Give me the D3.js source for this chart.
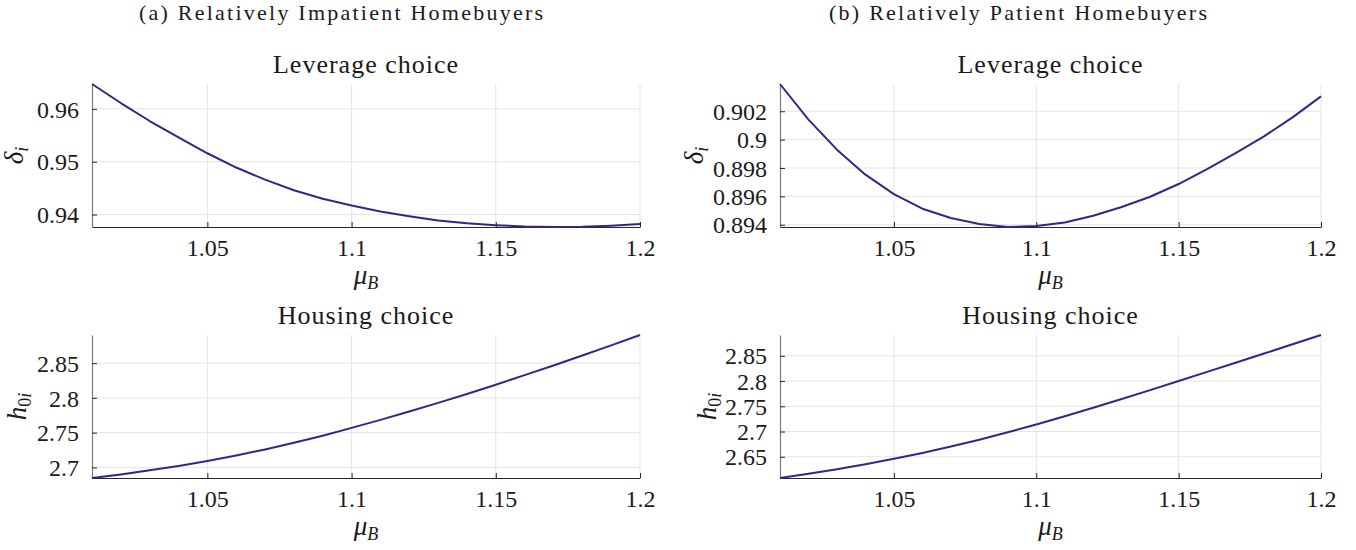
<!DOCTYPE html>
<html>
<head>
<meta charset="utf-8">
<script src="https://cdn.jsdelivr.net/npm/d3@7"></script>
<style>
    body { margin: 0; background: #fff; }
    text { font-family: "Liberation Serif", "Times New Roman", serif; fill: #1a1a1a; }
</style>
</head>
<body>
<svg id="chart" width="1356" height="550"></svg>
<script>
// mu_B grid (x axis of every panel)
const muB = [1.01, 1.02, 1.03, 1.04, 1.05, 1.06, 1.07, 1.08, 1.09, 1.10,
    1.11, 1.12, 1.13, 1.14, 1.15, 1.16, 1.17, 1.18, 1.19, 1.20];

// delta_i, relatively impatient / patient homebuyers
const leverageImpatient = [0.9647, 0.9611, 0.9577, 0.9546, 0.9516, 0.9489, 0.9466, 0.9446, 0.9430, 0.9417,
    0.9406, 0.9397, 0.9389, 0.93835, 0.9380, 0.93775, 0.93765, 0.93768, 0.9379, 0.9382];
const leveragePatient = [0.90392, 0.90141, 0.89929, 0.89753, 0.89616, 0.89513, 0.89447, 0.89405, 0.89384, 0.89391,
    0.89416, 0.89463, 0.89525, 0.89597, 0.89687, 0.89792, 0.89905, 0.90023, 0.90157, 0.90305];

// h_0i, relatively impatient / patient homebuyers
const housingImpatient = [2.6847, 2.6899, 2.6957, 2.7021, 2.7092, 2.7171, 2.7258, 2.7353, 2.7456, 2.7568,
    2.7684, 2.7804, 2.7928, 2.8057, 2.8190, 2.8327, 2.8467, 2.8610, 2.8756, 2.8905];
const housingPatient = [2.6080, 2.6164, 2.6255, 2.6354, 2.6460, 2.6575, 2.6702, 2.6839, 2.6985, 2.7140,
    2.7302, 2.7470, 2.7643, 2.7820, 2.8000, 2.8181, 2.8363, 2.8545, 2.8728, 2.8912];

// tick labels
const xTicks = [1.05, 1.1, 1.15, 1.2];
const leverageTicksA = [0.94, 0.95, 0.96];
const leverageTicksB = [0.894, 0.896, 0.898, 0.9, 0.902];
const housingTicksA = [2.7, 2.75, 2.8, 2.85];
const housingTicksB = [2.65, 2.7, 2.75, 2.8, 2.85];

const columnTitles = ["(a) Relatively Impatient Homebuyers", "(b) Relatively Patient Homebuyers"];

const lineColor = "#2e2888",
    gridColor = "#e4e4e4",
    axisColor = "#262626",
    serif = '"Liberation Serif", "Times New Roman", serif';

const svg = d3.select("#chart");

// plot boxes, in pixels
const cols = [{left: 92, right: 640, titleX: 341, titleW: 404}, {left: 780, right: 1321, titleX: 1018, titleW: 378}];
const rows = [{top: 84, bottom: 227}, {top: 335, bottom: 478}];

const panels = [
    {col: 0, row: 0, y: leverageImpatient, ticks: leverageTicksA, title: "Leverage choice", ylab: "delta", labX: 18},
    {col: 1, row: 0, y: leveragePatient, ticks: leverageTicksB, title: "Leverage choice", ylab: "delta", labX: 698},
    {col: 0, row: 1, y: housingImpatient, ticks: housingTicksA, title: "Housing choice", ylab: "h", labX: 21},
    {col: 1, row: 1, y: housingPatient, ticks: housingTicksB, title: "Housing choice", ylab: "h", labX: 711}
];

columnTitles.forEach(function (t, i) {
    let c = cols[i];
    svg.append("text")
        .attr("x", c.titleX)
        .attr("y", 20)
        .attr("text-anchor", "middle")
        .attr("textLength", c.titleW)
        .attr("lengthAdjust", "spacing")
        .style("font-family", serif)
        .style("font-size", "22px")
        .text(t);
});

function drawPanel(p) {
    let c = cols[p.col], r = rows[p.row];

    let x = d3.scaleLinear().domain([muB[0], muB[muB.length - 1]]).range([c.left, c.right]);
    let y = d3.scaleLinear().domain(d3.extent(p.y)).range([r.bottom, r.top]);

    let g = svg.append("g");

    // grid
    g.append("g").selectAll("line")
        .data(xTicks)
        .enter().append("line")
        .attr("x1", d => x(d)).attr("x2", d => x(d))
        .attr("y1", r.top).attr("y2", r.bottom)
        .attr("stroke", gridColor).attr("stroke-width", 1);

    g.append("g").selectAll("line")
        .data(p.ticks)
        .enter().append("line")
        .attr("x1", c.left).attr("x2", c.right)
        .attr("y1", d => y(d)).attr("y2", d => y(d))
        .attr("stroke", gridColor).attr("stroke-width", 1);

    // axes (inward ticks, MATLAB style)
    let fmt = d => String(+d.toFixed(3));
    let xAxis = d3.axisBottom(x).tickValues(xTicks).tickSizeInner(-5).tickSizeOuter(0)
        .tickPadding(12).tickFormat(fmt);
    let yAxis = d3.axisLeft(y).tickValues(p.ticks).tickSizeInner(-5).tickSizeOuter(0)
        .tickPadding(13).tickFormat(fmt);

    let gx = g.append("g").attr("transform", "translate(0," + r.bottom + ")").call(xAxis);
    let gy = g.append("g").attr("transform", "translate(" + c.left + ",0)").call(yAxis);

    [gx, gy].forEach(function (a) {
        a.attr("font-family", serif).attr("font-size", null);
        a.selectAll("text")
            .style("font-family", serif)
            .style("font-size", "24px")
            .attr("fill", "#1a1a1a");
        a.selectAll(".tick line").attr("stroke", axisColor);
    });
    gx.select(".domain").attr("stroke", axisColor).attr("stroke-width", 1.2);
    gy.select(".domain").attr("stroke", "#7a7a7a").attr("stroke-width", 1.2);
    gy.selectAll("text").attr("dy", "0.34em");
    gx.selectAll("text").attr("dy", "0.7em");

    // curve
    let line = d3.line()
        .x((d, i) => x(muB[i]))
        .y(d => y(d));

    g.append("path")
        .datum(p.y)
        .attr("fill", "none")
        .attr("stroke", lineColor)
        .attr("stroke-width", 2)
        .attr("stroke-linejoin", "round")
        .attr("d", line);

    // panel title
    g.append("text")
        .attr("x", (c.left + c.right) / 2)
        .attr("y", r.top - 11)
        .attr("text-anchor", "middle")
        .style("font-family", serif)
        .style("font-size", "26px")
        .attr("letter-spacing", "1px")
        .text(p.title);

    // x label mu_B
    let xl = g.append("text")
        .attr("x", (c.left + c.right) / 2)
        .attr("y", r.bottom + 57)
        .attr("text-anchor", "middle")
        .style("font-family", serif);
    xl.append("tspan").style("font-style", "italic").style("font-size", "27px").text("μ");
    xl.append("tspan").style("font-style", "italic").style("font-size", "18px").attr("dy", 5).text("B");

    // y label
    let yl = g.append("text")
        .attr("text-anchor", "middle")
        .attr("transform", "translate(" + p.labX + "," + (r.top + r.bottom) / 2 + ") rotate(-90)")
        .attr("dy", "0.3em")
        .style("font-family", serif);
    if (p.ylab === "delta") {
        yl.append("tspan").style("font-style", "italic").style("font-size", "27px").text("δ");
        yl.append("tspan").style("font-style", "italic").style("font-size", "18px").attr("dy", 5).text("i");
    } else {
        yl.append("tspan").style("font-style", "italic").style("font-size", "27px").text("h");
        yl.append("tspan").style("font-size", "18px").attr("dy", 5).text("0");
        yl.append("tspan").style("font-style", "italic").style("font-size", "18px").text("i");
    }
}

panels.forEach(drawPanel);
</script>
</body>
</html>
